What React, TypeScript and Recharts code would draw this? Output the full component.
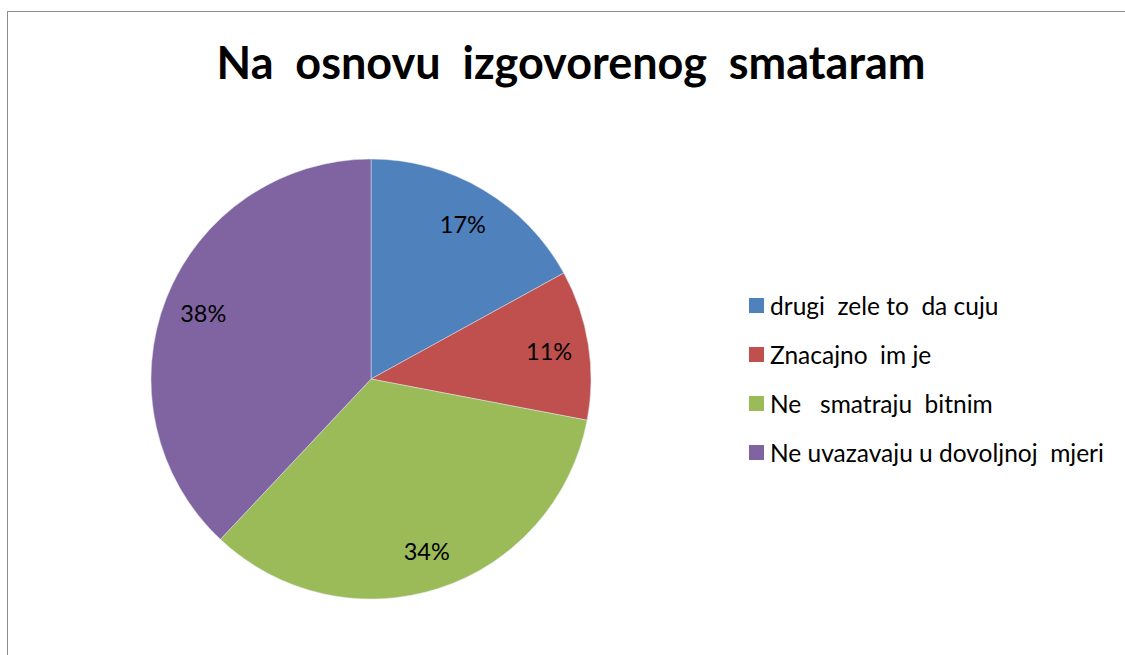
import React from 'react';
import { PieChart, Pie, Cell, Legend } from 'recharts';

const TITLE = 'Na  osnovu  izgovorenog  smataram';
const CATEGORIES = ['drugi  zele to  da cuju', 'Znacajno  im je', 'Ne   smatraju  bitnim', 'Ne uvazavaju u dovoljnoj  mjeri'];
const VALUES = [17, 11, 34, 38];
const COLORS = ['#4F81BD', '#C0504D', '#9BBB59', '#8064A2'];

const FONT = 'Lato, "Open Sans", sans-serif';

const data = CATEGORIES.map((name, i) => ({ name, value: VALUES[i] }));

const RADIAN = Math.PI / 180;

const renderLabel = (props: any) => {
    const { cx, cy, midAngle, outerRadius, percent } = props;
    const r = outerRadius * 0.82;
    const x = cx + r * Math.cos(-midAngle * RADIAN);
    const y = cy + r * Math.sin(-midAngle * RADIAN);
    return (
        <text x={x} y={y} fill="#000" textAnchor="middle" dominantBaseline="central" fontSize={23.5} fontFamily={FONT}>
            {`${Math.round(percent * 100)}%`}
        </text>
    );
};

const renderLegend = () => (
    <div style={{ fontFamily: FONT, fontSize: 24.5, color: '#000' }}>
        {data.map((d, i) => (
            <div key={d.name} style={{ display: 'flex', alignItems: 'center', height: 49 }}>
                <span style={{ width: 15, height: 15, background: COLORS[i], marginRight: 6, flexShrink: 0 }} />
                <span style={{ whiteSpace: 'pre' }}>{d.name}</span>
            </div>
        ))}
    </div>
);

export default function App() {
    return (
        <div style={{ position: 'fixed', left: 0, top: 0, width: 1125, height: 655, overflow: 'hidden', background: '#fff' }}>
            <div style={{ position: 'absolute', left: 7, top: 11, width: 1140, height: 670, border: '1px solid #8c8c8c', boxSizing: 'border-box' }} />
            <div style={{ position: 'absolute', left: 0, top: 32, width: 1142, textAlign: 'center', fontFamily: FONT, fontWeight: 'bold', fontSize: 45, lineHeight: '60px', whiteSpace: 'pre', color: '#000' }}>
                {TITLE}
            </div>
            <div style={{ position: 'absolute', left: 0, top: 0 }}>
                <PieChart width={1125} height={655} margin={{ top: 0, right: 0, bottom: 0, left: 0 }}>
                    <Pie
                        data={data}
                        dataKey="value"
                        nameKey="name"
                        cx={371}
                        cy={379}
                        outerRadius={220}
                        startAngle={90}
                        endAngle={-270}
                        stroke="#dfe6f0"
                        strokeWidth={0.5}
                        label={renderLabel}
                        labelLine={false}
                        isAnimationActive={false}
                    >
                        {data.map((entry, index) => (
                            <Cell key={`cell-${index}`} fill={COLORS[index]} />
                        ))}
                    </Pie>
                    <Legend
                        content={renderLegend}
                        layout="vertical"
                        wrapperStyle={{ position: 'absolute', left: 749, top: 281, width: 370 }}
                    />
                </PieChart>
            </div>
        </div>
    );
}
